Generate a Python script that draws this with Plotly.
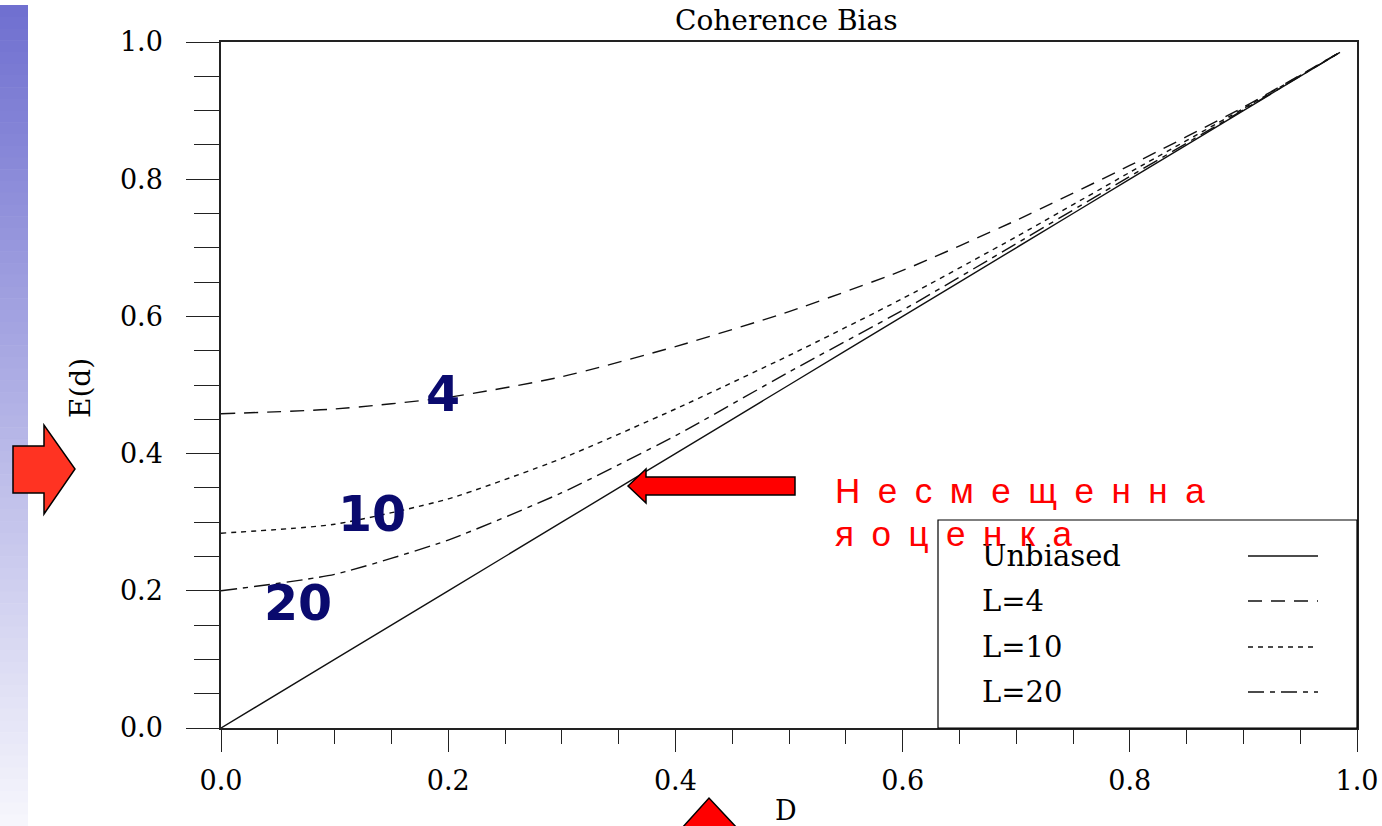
import plotly.graph_objects as go

# ---- data ----
D = [0.0, 0.1, 0.2, 0.3, 0.4, 0.5, 0.6, 0.7, 0.8, 0.9, 0.985]
unbiased = [0.0, 0.1, 0.2, 0.3, 0.4, 0.5, 0.6, 0.7, 0.8, 0.9, 0.985]
L4 = [0.458, 0.465, 0.482, 0.512, 0.556, 0.607, 0.667, 0.740, 0.820, 0.905, 0.985]
L10 = [0.284, 0.297, 0.334, 0.393, 0.465, 0.543, 0.626, 0.716, 0.810, 0.903, 0.985]
L20 = [0.200, 0.224, 0.274, 0.343, 0.426, 0.519, 0.609, 0.706, 0.804, 0.901, 0.985]

legend_labels = ["Unbiased", "L=4", "L=10", "L=20"]
curve_labels = ["4", "10", "20"]
tick_vals = [0.0, 0.2, 0.4, 0.6, 0.8, 1.0]
tick_text = ["0.0", "0.2", "0.4", "0.6", "0.8", "1.0"]

W, H = 1382, 826
L_M, R_M, T_M, B_M = 221, 25, 42, 98
PW = W - L_M - R_M
PH = H - T_M - B_M


def X(px):
    return (px - L_M) / PW


def Y(py):
    return (H - B_M - py) / PH


SERIF = "DejaVu Serif"
dashes = {"Unbiased": "solid", "L=4": "14px,9px", "L=10": "5px,5px", "L=20": "16px,6px,5px,6px"}

fig = go.Figure()
for name, ys in zip(legend_labels, [unbiased, L4, L10, L20]):
    fig.add_trace(go.Scatter(
        x=D, y=ys, mode="lines", name=name,
        line=dict(color="#111111", width=1.4, dash=dashes[name], shape="spline", smoothing=0.6),
        showlegend=False, hoverinfo="skip"))

shapes = []
# left gradient strip
n = 70
top, bot = 5, 826
c0 = (112, 112, 208)
c1 = (246, 246, 252)
for i in range(n):
    t = i / (n - 1)
    col = "rgb(%d,%d,%d)" % tuple(int(round(c0[k] + (c1[k] - c0[k]) * t)) for k in range(3))
    y0p = top + (bot - top) * i / n
    y1p = top + (bot - top) * (i + 1) / n + 0.6
    shapes.append(dict(type="rect", xref="paper", yref="paper", x0=X(0), x1=X(28),
                       y0=Y(y1p), y1=Y(y0p), fillcolor=col, line=dict(width=0), layer="below"))


def poly(pts):
    return "M " + " L ".join("%.5f,%.5f" % (X(a), Y(b)) for a, b in pts) + " Z"


# arrows
shapes.append(dict(type="path", xref="paper", yref="paper",
                   path=poly([(13, 446), (44, 446), (44, 425), (75, 469), (44, 514), (44, 493), (13, 493)]),
                   fillcolor="#ff3322", line=dict(color="black", width=1.5)))
shapes.append(dict(type="path", xref="paper", yref="paper",
                   path=poly([(628, 486), (646, 469), (646, 477), (795, 477), (795, 495), (646, 495), (646, 503)]),
                   fillcolor="#ff0000", line=dict(color="black", width=1.5)))
shapes.append(dict(type="path", xref="paper", yref="paper",
                   path=poly([(682, 828), (709, 798), (737, 828)]),
                   fillcolor="#ff0000", line=dict(color="black", width=1.5)))

# legend box
shapes.append(dict(type="rect", xref="paper", yref="paper", x0=X(938), x1=X(1357), y0=Y(728), y1=Y(520),
                   fillcolor="white", line=dict(color="black", width=1.2)))
leg_y = [556, 601, 647, 692]
for name, yy in zip(legend_labels, leg_y):
    shapes.append(dict(type="line", xref="paper", yref="paper", x0=X(1248), x1=X(1318), y0=Y(yy), y1=Y(yy),
                       line=dict(color="#111111", width=1.4, dash=dashes[name])))

annotations = []
for name, yy in zip(legend_labels, leg_y):
    annotations.append(dict(xref="paper", yref="paper", x=X(980), y=Y(yy), text=name, showarrow=False,
                            xanchor="left", yanchor="middle", font=dict(family=SERIF, size=29, color="black")))

# curve number labels
for txt, (px, py) in zip(curve_labels, [(443, 394), (372, 514), (298, 603)]):
    annotations.append(dict(xref="paper", yref="paper", x=X(px), y=Y(py), text="<b>%s</b>" % txt, showarrow=False,
                            xanchor="center", yanchor="middle",
                            font=dict(family="DejaVu Sans", size=49, color="#0a0a6e")))

# red annotation text
sp = "\u2002"
line1 = sp.join("Несмещенна")
line2 = sp.join("яоценка")
annotations.append(dict(xref="paper", yref="paper", x=X(833), y=Y(490), text=line1, showarrow=False,
                        xanchor="left", yanchor="middle", font=dict(family="Liberation Sans", size=35, color="#ff0000")))
annotations.append(dict(xref="paper", yref="paper", x=X(833), y=Y(533), text=line2, showarrow=False,
                        xanchor="left", yanchor="middle", font=dict(family="Liberation Sans", size=35, color="#ff0000")))

# axis titles and chart title
annotations.append(dict(xref="paper", yref="paper", x=X(81), y=Y(388), text="E(d)", showarrow=False, textangle=-90,
                        xanchor="center", yanchor="middle", font=dict(family=SERIF, size=28, color="black")))
annotations.append(dict(xref="paper", yref="paper", x=X(786), y=Y(810), text="D", showarrow=False,
                        xanchor="center", yanchor="middle", font=dict(family=SERIF, size=27, color="black")))
annotations.append(dict(xref="paper", yref="paper", x=X(786), y=Y(20), text="Coherence Bias", showarrow=False,
                        xanchor="center", yanchor="middle", font=dict(family=SERIF, size=28, color="black")))

axis_common = dict(range=[0, 1], tickvals=tick_vals, ticktext=tick_text, showgrid=False, zeroline=False,
                   showline=True, linecolor="#222222", linewidth=1.5, mirror=True, ticks="outside",
                   tickcolor="#222222", tickwidth=1.3, automargin=False,
                   tickfont=dict(family=SERIF, size=27, color="black"))

fig.update_layout(
    width=W, height=H, autosize=False,
    margin=dict(l=L_M, r=R_M, t=T_M, b=B_M, autoexpand=False),
    paper_bgcolor="white", plot_bgcolor="white",
    shapes=shapes, annotations=annotations, showlegend=False,
    xaxis=dict(**axis_common, ticklen=22, ticklabelstandoff=6,
               minor=dict(dtick=0.05, ticks="outside", ticklen=14, tickcolor="#222222", tickwidth=1.2)),
    yaxis=dict(**axis_common, ticklen=33, ticklabelstandoff=18,
               minor=dict(dtick=0.05, ticks="outside", ticklen=25, tickcolor="#222222", tickwidth=1.2)),
)

fig.write_html("out.html", config={"displayModeBar": False},
               post_script="document.body.style.margin='0';document.body.style.overflow='hidden';")
